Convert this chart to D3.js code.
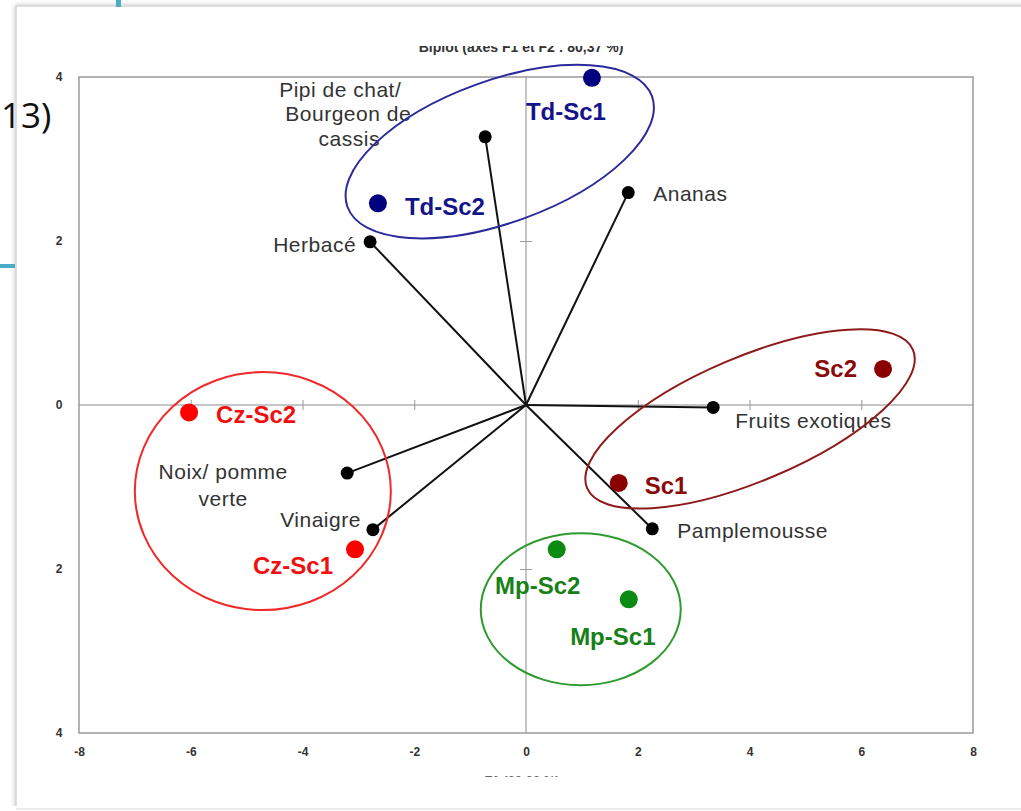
<!DOCTYPE html>
<html><head><meta charset="utf-8">
<script src="https://cdn.jsdelivr.net/npm/d3@7"></script>
<style>body{margin:0;background:#fff;overflow:hidden} svg{display:block}</style>
</head><body>
<svg id="c" width="1021" height="811"></svg>
<script>
// ---- data ----
const varNames = ["Pipi de chat/ Bourgeon de cassis", "Ananas", "Herbacé", "Fruits exotiques", "Pamplemousse", "Noix/ pomme verte", "Vinaigre"];
const varX = [-0.73, 1.83, -2.79, 3.35, 2.26, -3.20, -2.74];
const varY = [3.27, 2.59, 1.99, -0.03, -1.51, -0.83, -1.52];

const obsNames = ["Td-Sc1", "Td-Sc2", "Sc2", "Sc1", "Mp-Sc2", "Mp-Sc1", "Cz-Sc2", "Cz-Sc1"];
const obsX = [1.18, -2.65, 6.39, 1.66, 0.55, 1.84, -6.03, -3.06];
const obsY = [3.99, 2.46, 0.44, -0.95, -1.76, -2.37, -0.09, -1.76];
const obsGroup = ["Td", "Td", "Sc", "Sc", "Mp", "Mp", "Cz", "Cz"];

const groupNames = ["Td", "Sc", "Mp", "Cz"];
const groupCX = [-0.47, 4.01, 0.98, -4.71];
const groupCY = [3.09, -0.17, -2.49, -1.05];

const xTicks = [-8, -6, -4, -2, 0, 2, 4, 6, 8];
const xTickLabels = ["-8", "-6", "-4", "-2", "0", "2", "4", "6", "8"];
const yTicks = [4, 2, 0, -2, -4];
const yTickLabels = ["4", "2", "0", "2", "4"];

const chartTitle = "Biplot (axes F1 et F2 : 80,37 %)";
const xTitle = "F1 (60,66 %)";
const sideText = "13)";

// ---- styles / layout ----
const groupStyle = {
  Td: {dot: "#00007f", label: "#14148a", ring: "#2a2a9c", rx: 162, ry: 71, rot: -20},
  Sc: {dot: "#8a0000", label: "#8a0a0a", ring: "#8e1b1b", rx: 177, ry: 62, rot: -23},
  Mp: {dot: "#0d8a12", label: "#178017", ring: "#2f9a2f", rx: 100, ry: 76, rot: 0},
  Cz: {dot: "#ff0000", label: "#f01010", ring: "#ee2a2a", rx: 128, ry: 119, rot: 0}
};
const obsLabelPos = {
  "Td-Sc1": {a: "middle", dx: -26, dy: 34},
  "Td-Sc2": {a: "start", dx: 27, dy: 3},
  "Sc2": {a: "end", dx: -26, dy: 0},
  "Sc1": {a: "start", dx: 26, dy: 3},
  "Mp-Sc2": {a: "middle", dx: -19, dy: 36},
  "Mp-Sc1": {a: "middle", dx: -16, dy: 37},
  "Cz-Sc2": {a: "start", dx: 27, dy: 2},
  "Cz-Sc1": {a: "middle", dx: -62, dy: 16}
};
const varLabelPos = {
  "Pipi de chat/ Bourgeon de cassis": {a: "middle", lines: [["Pipi de chat/", -145, -47], ["Bourgeon de", -137, -23], ["cassis", -136, 2]]},
  "Ananas": {a: "start", lines: [["Ananas", 25, 1]]},
  "Herbacé": {a: "end", lines: [["Herbacé", -14, 3]]},
  "Fruits exotiques": {a: "start", lines: [["Fruits exotiques", 22, 13]]},
  "Pamplemousse": {a: "start", lines: [["Pamplemousse", 25, 2]]},
  "Noix/ pomme verte": {a: "middle", lines: [["Noix/ pomme", -124, -1], ["verte", -124, 26]]},
  "Vinaigre": {a: "end", lines: [["Vinaigre", -12, -10]]}
};

const svg = d3.select("#c");
const font = "'Liberation Sans', Arial, sans-serif";

// page card
const defs = svg.append("defs");
const f = defs.append("filter").attr("id", "sh").attr("x", "-5%").attr("y", "-5%").attr("width", "110%").attr("height", "110%");
f.append("feDropShadow").attr("dx", 0).attr("dy", 0).attr("stdDeviation", 2.5).attr("flood-color", "#000").attr("flood-opacity", 0.25);
svg.append("rect").attr("x", 16).attr("y", 6).attr("width", 1030).attr("height", 803)
  .attr("fill", "#fff").attr("stroke", "#d4d4d4").attr("stroke-width", 1.5).attr("filter", "url(#sh)");
svg.append("rect").attr("x", 0).attr("y", 806).attr("width", 1021).attr("height", 5).attr("fill", "#fff");
svg.append("line").attr("x1", 16).attr("x2", 1021).attr("y1", 809).attr("y2", 809).attr("stroke", "#e6e6e6").attr("stroke-width", 1.5);

// teal slide accents
svg.append("rect").attr("x", 116).attr("y", 0).attr("width", 5).attr("height", 7).attr("fill", "#4bacc6");
svg.append("rect").attr("x", 0).attr("y", 264).attr("width", 15).attr("height", 4).attr("fill", "#4bacc6");

// side text
svg.append("text").attr("x", 1).attr("y", 128).attr("text-anchor", "start")
  .attr("font-family", "'Open Sans', 'Noto Sans', sans-serif").attr("font-size", 35).attr("fill", "#111").text(sideText);

// scales
const x = d3.scaleLinear().domain([-8, 8]).range([79, 973]);
const y = d3.scaleLinear().domain([-4, 4]).range([733, 77]);

// clipped title
defs.append("clipPath").attr("id", "tclip").append("rect").attr("x", 0).attr("y", 46).attr("width", 1021).attr("height", 20);
svg.append("text").attr("x", 521).attr("y", 52).attr("text-anchor", "middle").attr("clip-path", "url(#tclip)")
  .attr("font-family", font).attr("font-weight", "bold").attr("font-size", 14).attr("fill", "#333").text(chartTitle);
defs.append("clipPath").attr("id", "xclip").append("rect").attr("x", 0).attr("y", 760).attr("width", 1021).attr("height", 17);
svg.append("text").attr("x", 522).attr("y", 785).attr("text-anchor", "middle").attr("clip-path", "url(#xclip)")
  .attr("font-family", font).attr("font-weight", "bold").attr("font-size", 13).attr("fill", "#666").text(xTitle);

// frame
svg.append("rect").attr("x", x(-8)).attr("y", y(4)).attr("width", x(8) - x(-8)).attr("height", y(-4) - y(4))
  .attr("fill", "none").attr("stroke", "#9a9a9a").attr("stroke-width", 1.5);

// zero lines
svg.append("line").attr("x1", x(-8)).attr("x2", x(8)).attr("y1", y(0)).attr("y2", y(0)).attr("stroke", "#8c8c8c").attr("stroke-width", 1);
svg.append("line").attr("x1", x(0)).attr("x2", x(0)).attr("y1", y(4)).attr("y2", y(-4)).attr("stroke", "#8c8c8c").attr("stroke-width", 1);

// axes at zero lines (ticks crossing, no domain)
const xAxisZero = d3.axisBottom(x).tickValues(xTicks.filter(v => v !== 0 && Math.abs(v) !== 8)).tickSize(5).tickFormat("");
const gx0 = svg.append("g").attr("transform", `translate(0,${y(0) - 5})`).call(xAxisZero);
gx0.select(".domain").remove();
gx0.selectAll("line").attr("y2", 10).attr("stroke", "#999");
const yAxisZero = d3.axisLeft(y).tickValues(yTicks.filter(v => v !== 0 && Math.abs(v) !== 4)).tickSize(6).tickFormat("");
const gy0 = svg.append("g").attr("transform", `translate(${x(0) + 6},0)`).call(yAxisZero);
gy0.select(".domain").remove();
gy0.selectAll("line").attr("x2", -12).attr("stroke", "#999");

// tick labels via axes
const xAxis = d3.axisBottom(x).tickValues(xTicks).tickSize(0).tickPadding(14).tickFormat((d, i) => xTickLabels[i]);
const gx = svg.append("g").attr("transform", `translate(0,${y(-4)})`).call(xAxis);
gx.select(".domain").remove();
gx.selectAll("text").attr("font-family", font).attr("font-weight", "bold").attr("font-size", 12).attr("fill", "#333");
const yAxis = d3.axisLeft(y).tickValues(yTicks).tickSize(0).tickPadding(20).tickFormat((d, i) => yTickLabels[i]);
const gy = svg.append("g").attr("transform", `translate(${x(-8)},0)`).call(yAxis);
gy.select(".domain").remove();
gy.selectAll("text").attr("font-family", font).attr("font-weight", "bold").attr("font-size", 12).attr("fill", "#333")
  .attr("text-anchor", "middle");

// vectors
const vars = varNames.map((n, i) => ({name: n, x: varX[i], y: varY[i]}));
svg.append("g").selectAll("line").data(vars).join("line")
  .attr("x1", x(0)).attr("y1", y(0)).attr("x2", d => x(d.x)).attr("y2", d => y(d.y))
  .attr("stroke", "#111").attr("stroke-width", 2);
svg.append("g").selectAll("circle").data(vars).join("circle")
  .attr("cx", d => x(d.x)).attr("cy", d => y(d.y)).attr("r", 6.5).attr("fill", "#000");

// variable labels
vars.forEach(d => {
  const p = varLabelPos[d.name];
  p.lines.forEach(([t, dx, dy]) => {
    svg.append("text").attr("x", x(d.x) + dx).attr("y", y(d.y) + dy).attr("dy", "0.35em")
      .attr("text-anchor", p.a).attr("font-family", font).attr("font-size", 21).attr("letter-spacing", 0.5)
      .attr("fill", "#333").text(t);
  });
});

// group ellipses
const groups = groupNames.map((g, i) => ({g, cx: groupCX[i], cy: groupCY[i]}));
svg.append("g").selectAll("ellipse").data(groups).join("ellipse")
  .attr("transform", d => `translate(${x(d.cx)},${y(d.cy)}) rotate(${groupStyle[d.g].rot})`)
  .attr("rx", d => groupStyle[d.g].rx).attr("ry", d => groupStyle[d.g].ry)
  .attr("fill", "none").attr("stroke", d => groupStyle[d.g].ring).attr("stroke-width", 2);

// observations
const obs = obsNames.map((n, i) => ({name: n, x: obsX[i], y: obsY[i], g: obsGroup[i]}));
svg.append("g").selectAll("circle").data(obs).join("circle")
  .attr("cx", d => x(d.x)).attr("cy", d => y(d.y)).attr("r", 9)
  .attr("fill", d => groupStyle[d.g].dot);
svg.append("g").selectAll("text").data(obs).join("text")
  .attr("x", d => x(d.x) + obsLabelPos[d.name].dx).attr("y", d => y(d.y) + obsLabelPos[d.name].dy)
  .attr("dy", "0.35em").attr("text-anchor", d => obsLabelPos[d.name].a)
  .attr("font-family", font).attr("font-weight", "bold").attr("font-size", 24)
  .attr("fill", d => groupStyle[d.g].label).text(d => d.name);
</script>
</body></html>
